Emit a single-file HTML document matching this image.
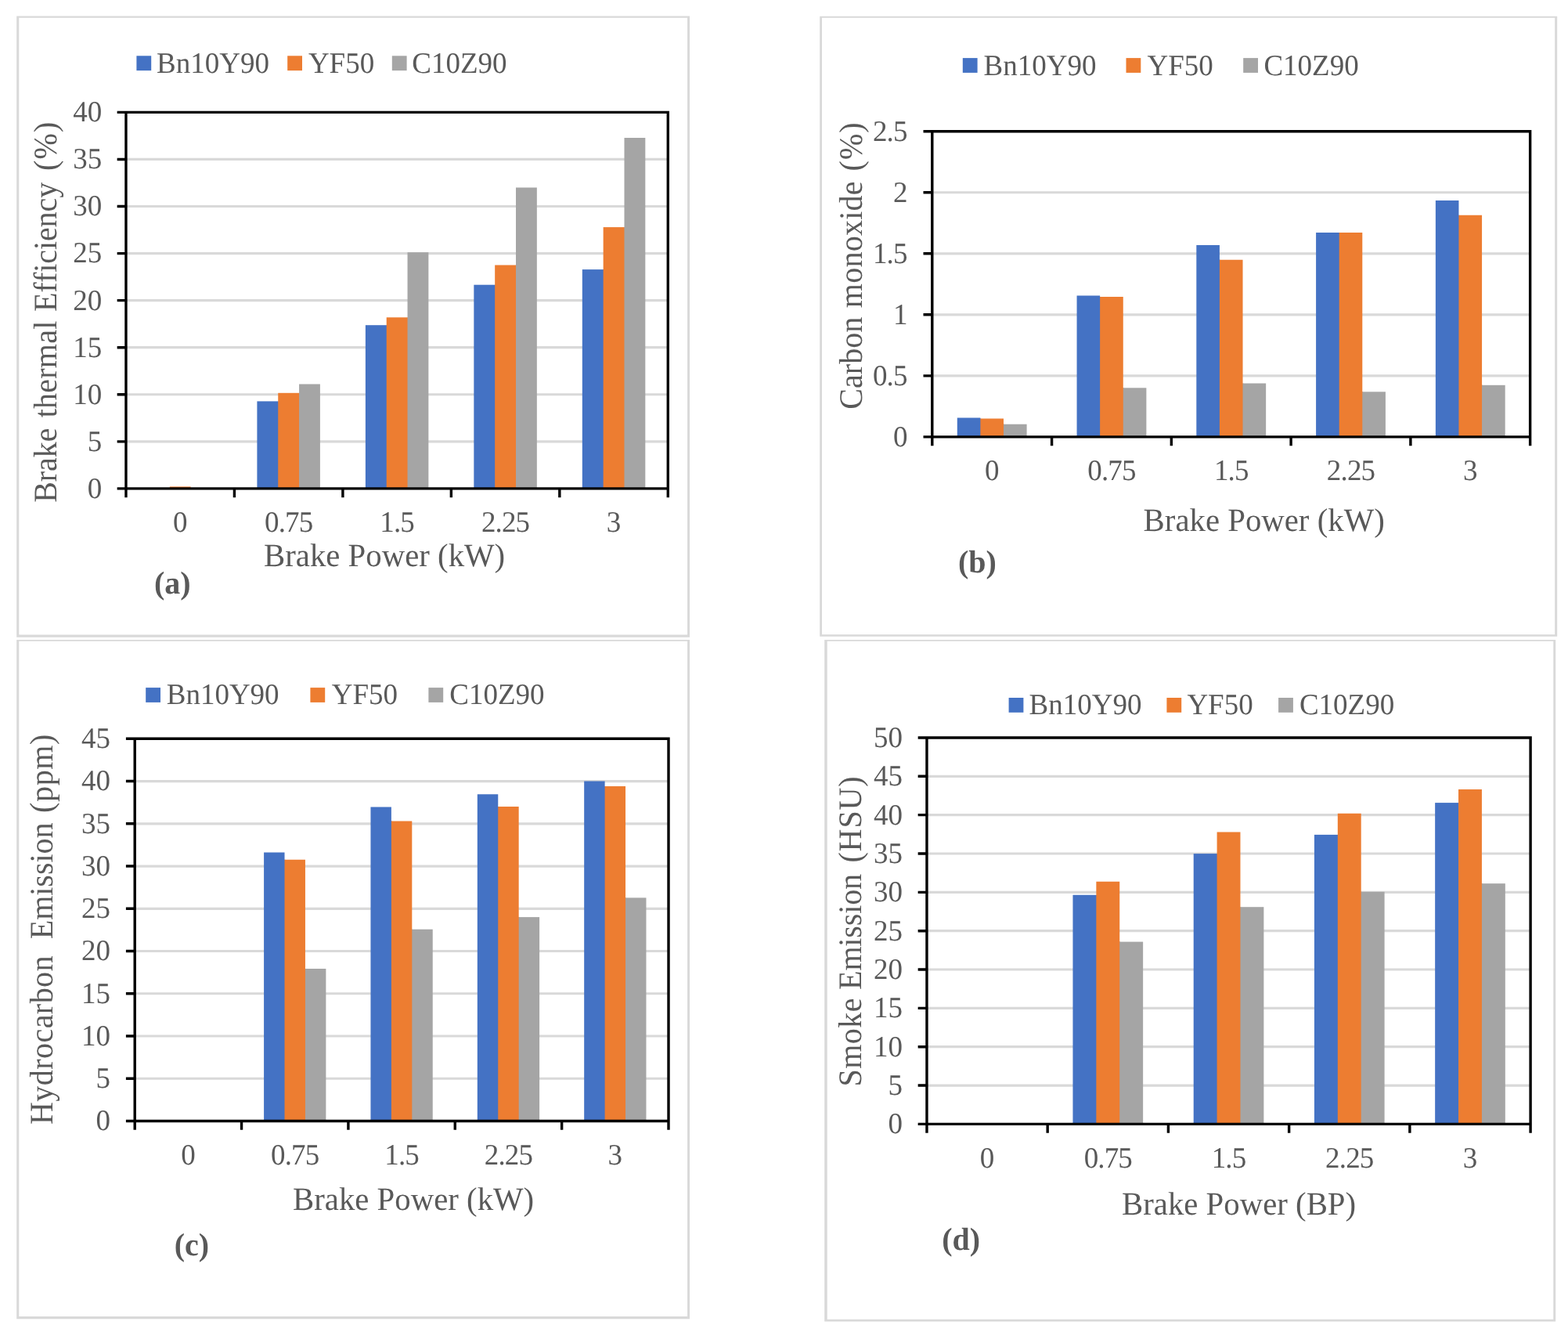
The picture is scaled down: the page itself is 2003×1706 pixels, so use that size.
<!DOCTYPE html>
<html lang="en">
<head>
<meta charset="utf-8">
<title>Engine performance and emission charts</title>
<style>
html,body{margin:0;padding:0;background:#fff;}
body{width:2003px;height:1706px;overflow:hidden;}
svg{display:block;}
svg text{font-family:'Liberation Serif', serif;fill:#595959;text-rendering:geometricPrecision;}
</style>
</head>
<body>
<svg xmlns="http://www.w3.org/2000/svg" width="2003" height="1706" viewBox="0 0 2003 1706">
<rect width="2003" height="1706" fill="#fff"/>
<g id="chart-a">
<path d="M21.2 20.5H881V813.7H21.2ZM24.3 22.7V810.6H878.1V22.7Z" fill="#D9D9D9" fill-rule="evenodd"/>
<path d="M160.95 563.84H853.3M160.95 503.77H853.3M160.95 443.71H853.3M160.95 383.65H853.3M160.95 323.59H853.3M160.95 263.52H853.3M160.95 203.46H853.3" stroke="#D9D9D9" stroke-width="3.2" fill="none"/>
<rect x="216.77" y="621.4" width="26.84" height="2.5" fill="#ED7D31"/>
<rect x="328.4" y="512.4" width="27.64" height="111.5" fill="#4472C4"/>
<rect x="355.24" y="501.8" width="27.64" height="122.1" fill="#ED7D31"/>
<rect x="382.07" y="490.5" width="26.84" height="133.4" fill="#A5A5A5"/>
<rect x="466.87" y="415.2" width="27.64" height="208.7" fill="#4472C4"/>
<rect x="493.71" y="405.3" width="27.64" height="218.6" fill="#ED7D31"/>
<rect x="520.54" y="322.2" width="26.84" height="301.7" fill="#A5A5A5"/>
<rect x="605.34" y="363.7" width="27.64" height="260.2" fill="#4472C4"/>
<rect x="632.18" y="338.5" width="27.64" height="285.4" fill="#ED7D31"/>
<rect x="659.01" y="239.5" width="26.84" height="384.4" fill="#A5A5A5"/>
<rect x="743.81" y="344.1" width="27.64" height="279.8" fill="#4472C4"/>
<rect x="770.65" y="290.1" width="27.64" height="333.8" fill="#ED7D31"/>
<rect x="797.48" y="176" width="26.84" height="447.9" fill="#A5A5A5"/>
<path d="M160.95 143.4H853.3V623.9H160.95ZM149.65 623.9H160.95M149.65 563.84H160.95M149.65 503.77H160.95M149.65 443.71H160.95M149.65 383.65H160.95M149.65 323.59H160.95M149.65 263.52H160.95M149.65 203.46H160.95M149.65 143.4H160.95M160.95 623.9V635.2M299.42 623.9V635.2M437.89 623.9V635.2M576.36 623.9V635.2M714.83 623.9V635.2M853.3 623.9V635.2" stroke="#000" stroke-width="3.4" fill="none" stroke-linejoin="miter"/>
<text transform="translate(130.3 635.8) scale(1 1.02)" font-size="37" text-anchor="end">0</text>
<text transform="translate(130.3 575.74) scale(1 1.02)" font-size="37" text-anchor="end">5</text>
<text transform="translate(130.3 515.67) scale(1 1.02)" font-size="37" text-anchor="end">10</text>
<text transform="translate(130.3 455.61) scale(1 1.02)" font-size="37" text-anchor="end">15</text>
<text transform="translate(130.3 395.55) scale(1 1.02)" font-size="37" text-anchor="end">20</text>
<text transform="translate(130.3 335.49) scale(1 1.02)" font-size="37" text-anchor="end">25</text>
<text transform="translate(130.3 275.43) scale(1 1.02)" font-size="37" text-anchor="end">30</text>
<text transform="translate(130.3 215.36) scale(1 1.02)" font-size="37" text-anchor="end">35</text>
<text transform="translate(130.3 155.3) scale(1 1.02)" font-size="37" text-anchor="end">40</text>
<text transform="translate(230.18 678.6) scale(1 1.02)" font-size="37" text-anchor="middle">0</text>
<text transform="translate(368.65 678.6) scale(1 1.02)" font-size="37" text-anchor="middle" style="letter-spacing:-0.85px">0.75</text>
<text transform="translate(507.12 678.6) scale(1 1.02)" font-size="37" text-anchor="middle" style="letter-spacing:-0.85px">1.5</text>
<text transform="translate(645.59 678.6) scale(1 1.02)" font-size="37" text-anchor="middle" style="letter-spacing:-0.85px">2.25</text>
<text transform="translate(784.06 678.6) scale(1 1.02)" font-size="37" text-anchor="middle">3</text>
<text transform="translate(337 722.7) scale(1 1.02)" font-size="40.8">Brake Power (kW)</text>
<text transform="translate(72.4 641.8) rotate(-90) scale(1 1.05)" font-size="40" xml:space="preserve"><tspan x="0" textLength="95.3" lengthAdjust="spacing">Brake</tspan> <tspan x="108.6" textLength="123.5" lengthAdjust="spacing">thermal</tspan> <tspan x="243.8" textLength="165.25" lengthAdjust="spacing">Efficiency</tspan> <tspan x="423.8" textLength="62.3" lengthAdjust="spacing">(%)</tspan></text>
<text transform="translate(197 758) scale(1 1.02)" font-size="40" font-weight="bold">(a)</text>
<rect x="174.4" y="71.3" width="18.8" height="18.8" fill="#4472C4"/>
<text transform="translate(200.1 92.5) scale(1 1.02)" font-size="37">Bn10Y90</text>
<rect x="367.2" y="71.3" width="18.8" height="18.8" fill="#ED7D31"/>
<text transform="translate(393.9 92.5) scale(1 1.02)" font-size="37">YF50</text>
<rect x="500.8" y="71.3" width="18.8" height="18.8" fill="#A5A5A5"/>
<text transform="translate(526.2 92.5) scale(1 1.02)" font-size="37">C10Z90</text>
</g>
<g id="chart-b">
<path d="M1047.2 20.7H1989.2V812.7H1047.2ZM1050 22.7V810.2H1986.2V22.7Z" fill="#D9D9D9" fill-rule="evenodd"/>
<path d="M1190.8 479.83H1954.65M1190.8 401.81H1954.65M1190.8 323.79H1954.65M1190.8 245.77H1954.65" stroke="#D9D9D9" stroke-width="3.2" fill="none"/>
<path d="M1222.78 533.4H1252.38V534.4h0.8V557.85H1222.78Z" fill="#4472C4"/>
<path d="M1252.38 534.4H1281.99V541.7h0.8V557.85H1252.38Z" fill="#ED7D31"/>
<rect x="1281.99" y="541.7" width="29.61" height="16.15" fill="#A5A5A5"/>
<path d="M1375.55 377.6H1405.15V378.9h0.8V557.85H1375.55Z" fill="#4472C4"/>
<path d="M1405.15 378.9H1434.76V495.3h0.8V557.85H1405.15Z" fill="#ED7D31"/>
<rect x="1434.76" y="495.3" width="29.61" height="62.55" fill="#A5A5A5"/>
<path d="M1528.32 313.1H1557.92V331.7h0.8V557.85H1528.32Z" fill="#4472C4"/>
<path d="M1557.92 331.7H1587.53V489.5h0.8V557.85H1557.92Z" fill="#ED7D31"/>
<rect x="1587.53" y="489.5" width="29.61" height="68.35" fill="#A5A5A5"/>
<rect x="1681.09" y="297" width="30.41" height="260.85" fill="#4472C4"/>
<path d="M1710.69 297H1740.3V500.3h0.8V557.85H1710.69Z" fill="#ED7D31"/>
<rect x="1740.3" y="500.3" width="29.61" height="57.55" fill="#A5A5A5"/>
<path d="M1833.86 255.9H1863.46V274.8h0.8V557.85H1833.86Z" fill="#4472C4"/>
<path d="M1863.46 274.8H1893.07V491.8h0.8V557.85H1863.46Z" fill="#ED7D31"/>
<rect x="1893.07" y="491.8" width="29.61" height="66.05" fill="#A5A5A5"/>
<path d="M1190.8 167.75H1954.65V557.85H1190.8ZM1179.5 557.85H1190.8M1179.5 479.83H1190.8M1179.5 401.81H1190.8M1179.5 323.79H1190.8M1179.5 245.77H1190.8M1179.5 167.75H1190.8M1190.8 557.85V569.15M1343.57 557.85V569.15M1496.34 557.85V569.15M1649.11 557.85V569.15M1801.88 557.85V569.15M1954.65 557.85V569.15" stroke="#000" stroke-width="3.4" fill="none" stroke-linejoin="miter"/>
<text transform="translate(1159.5 569.75) scale(1 1.02)" font-size="37" text-anchor="end">0</text>
<text transform="translate(1158.65 491.73) scale(1 1.02)" font-size="37" text-anchor="end" style="letter-spacing:-0.85px">0.5</text>
<text transform="translate(1159.5 413.71) scale(1 1.02)" font-size="37" text-anchor="end">1</text>
<text transform="translate(1158.65 335.69) scale(1 1.02)" font-size="37" text-anchor="end" style="letter-spacing:-0.85px">1.5</text>
<text transform="translate(1159.5 257.67) scale(1 1.02)" font-size="37" text-anchor="end">2</text>
<text transform="translate(1158.65 179.65) scale(1 1.02)" font-size="37" text-anchor="end" style="letter-spacing:-0.85px">2.5</text>
<text transform="translate(1267.18 612.7) scale(1 1.02)" font-size="37" text-anchor="middle">0</text>
<text transform="translate(1419.95 612.7) scale(1 1.02)" font-size="37" text-anchor="middle" style="letter-spacing:-0.85px">0.75</text>
<text transform="translate(1572.72 612.7) scale(1 1.02)" font-size="37" text-anchor="middle" style="letter-spacing:-0.85px">1.5</text>
<text transform="translate(1725.5 612.7) scale(1 1.02)" font-size="37" text-anchor="middle" style="letter-spacing:-0.85px">2.25</text>
<text transform="translate(1878.27 612.7) scale(1 1.02)" font-size="37" text-anchor="middle">3</text>
<text transform="translate(1460.6 678.1) scale(1 1.02)" font-size="40.8">Brake Power (kW)</text>
<text transform="translate(1100.6 522.7) rotate(-90) scale(1 1.05)" font-size="40" xml:space="preserve"><tspan x="0" textLength="117.95" lengthAdjust="spacing">Carbon</tspan> <tspan x="129.5" textLength="161.7" lengthAdjust="spacing">monoxide</tspan> <tspan x="304.1" textLength="62.3" lengthAdjust="spacing">(%)</tspan></text>
<text transform="translate(1224 731.3) scale(1 1.02)" font-size="40" font-weight="bold">(b)</text>
<rect x="1229.8" y="74.1" width="18.8" height="18.8" fill="#4472C4"/>
<text transform="translate(1256.6 96) scale(1 1.02)" font-size="37">Bn10Y90</text>
<rect x="1438.5" y="74.1" width="18.8" height="18.8" fill="#ED7D31"/>
<text transform="translate(1465.5 96) scale(1 1.02)" font-size="37">YF50</text>
<rect x="1588.2" y="74.1" width="18.8" height="18.8" fill="#A5A5A5"/>
<text transform="translate(1614.4 96) scale(1 1.02)" font-size="37">C10Z90</text>
</g>
<g id="chart-c">
<path d="M21.2 817.1H881V1684.3H21.2ZM24.3 818.7V1680.9H878.1V818.7Z" fill="#D9D9D9" fill-rule="evenodd"/>
<path d="M172.2 1377.26H854M172.2 1323.01H854M172.2 1268.77H854M172.2 1214.52H854M172.2 1160.28H854M172.2 1106.03H854M172.2 1051.79H854M172.2 997.54H854" stroke="#D9D9D9" stroke-width="3.2" fill="none"/>
<path d="M337.1 1088.6H363.53V1097.7h0.8V1431.5H337.1Z" fill="#4472C4"/>
<path d="M363.53 1097.7H389.95V1237h0.8V1431.5H363.53Z" fill="#ED7D31"/>
<rect x="389.95" y="1237" width="26.43" height="194.5" fill="#A5A5A5"/>
<path d="M473.46 1030.4H499.89V1048.6h0.8V1431.5H473.46Z" fill="#4472C4"/>
<path d="M499.89 1048.6H526.31V1186.7h0.8V1431.5H499.89Z" fill="#ED7D31"/>
<rect x="526.31" y="1186.7" width="26.43" height="244.8" fill="#A5A5A5"/>
<path d="M609.82 1014.3H636.25V1029.9h0.8V1431.5H609.82Z" fill="#4472C4"/>
<path d="M636.25 1029.9H662.67V1171.1h0.8V1431.5H636.25Z" fill="#ED7D31"/>
<rect x="662.67" y="1171.1" width="26.43" height="260.4" fill="#A5A5A5"/>
<path d="M746.18 997.6H772.61V1003.9h0.8V1431.5H746.18Z" fill="#4472C4"/>
<path d="M772.61 1003.9H799.03V1146.4h0.8V1431.5H772.61Z" fill="#ED7D31"/>
<rect x="799.03" y="1146.4" width="26.43" height="285.1" fill="#A5A5A5"/>
<path d="M172.2 943.3H854V1431.5H172.2ZM160.9 1431.5H172.2M160.9 1377.26H172.2M160.9 1323.01H172.2M160.9 1268.77H172.2M160.9 1214.52H172.2M160.9 1160.28H172.2M160.9 1106.03H172.2M160.9 1051.79H172.2M160.9 997.54H172.2M160.9 943.3H172.2M172.2 1431.5V1442.8M308.56 1431.5V1442.8M444.92 1431.5V1442.8M581.28 1431.5V1442.8M717.64 1431.5V1442.8M854 1431.5V1442.8" stroke="#000" stroke-width="3.4" fill="none" stroke-linejoin="miter"/>
<text transform="translate(141 1443.4) scale(1 1.02)" font-size="37" text-anchor="end">0</text>
<text transform="translate(141 1389.16) scale(1 1.02)" font-size="37" text-anchor="end">5</text>
<text transform="translate(141 1334.91) scale(1 1.02)" font-size="37" text-anchor="end">10</text>
<text transform="translate(141 1280.67) scale(1 1.02)" font-size="37" text-anchor="end">15</text>
<text transform="translate(141 1226.42) scale(1 1.02)" font-size="37" text-anchor="end">20</text>
<text transform="translate(141 1172.18) scale(1 1.02)" font-size="37" text-anchor="end">25</text>
<text transform="translate(141 1117.93) scale(1 1.02)" font-size="37" text-anchor="end">30</text>
<text transform="translate(141 1063.69) scale(1 1.02)" font-size="37" text-anchor="end">35</text>
<text transform="translate(141 1009.44) scale(1 1.02)" font-size="37" text-anchor="end">40</text>
<text transform="translate(141 955.2) scale(1 1.02)" font-size="37" text-anchor="end">45</text>
<text transform="translate(240.38 1486.9) scale(1 1.02)" font-size="37" text-anchor="middle">0</text>
<text transform="translate(376.74 1486.9) scale(1 1.02)" font-size="37" text-anchor="middle" style="letter-spacing:-0.85px">0.75</text>
<text transform="translate(513.1 1486.9) scale(1 1.02)" font-size="37" text-anchor="middle" style="letter-spacing:-0.85px">1.5</text>
<text transform="translate(649.46 1486.9) scale(1 1.02)" font-size="37" text-anchor="middle" style="letter-spacing:-0.85px">2.25</text>
<text transform="translate(785.82 1486.9) scale(1 1.02)" font-size="37" text-anchor="middle">3</text>
<text transform="translate(374 1544.7) scale(1 1.02)" font-size="40.8">Brake Power (kW)</text>
<text transform="translate(67.45 1436) rotate(-90) scale(1 1.05)" font-size="40" xml:space="preserve"><tspan x="0" textLength="215.54" lengthAdjust="spacing">Hydrocarbon</tspan>  <tspan x="236.8" textLength="148.7" lengthAdjust="spacing">Emission</tspan> <tspan x="398.1" textLength="100.25" lengthAdjust="spacing">(ppm)</tspan></text>
<text transform="translate(222.8 1603.2) scale(1 1.02)" font-size="40" font-weight="bold">(c)</text>
<rect x="186.2" y="878.1" width="18.8" height="18.8" fill="#4472C4"/>
<text transform="translate(212.7 898.8) scale(1 1.02)" font-size="37">Bn10Y90</text>
<rect x="396.4" y="878.1" width="18.8" height="18.8" fill="#ED7D31"/>
<text transform="translate(423.7 898.8) scale(1 1.02)" font-size="37">YF50</text>
<rect x="547.4" y="878.1" width="18.8" height="18.8" fill="#A5A5A5"/>
<text transform="translate(574.3 898.8) scale(1 1.02)" font-size="37">C10Z90</text>
</g>
<g id="chart-d">
<path d="M1053.2 817.1H1987.2V1687.6H1053.2ZM1056.7 818.7V1684.7H1984.3V818.7Z" fill="#D9D9D9" fill-rule="evenodd"/>
<path d="M1183.95 1386.06H1955.1M1183.95 1336.71H1955.1M1183.95 1287.37H1955.1M1183.95 1238.02H1955.1M1183.95 1188.68H1955.1M1183.95 1139.33H1955.1M1183.95 1089.99H1955.1M1183.95 1040.64H1955.1M1183.95 991.3H1955.1" stroke="#D9D9D9" stroke-width="3.2" fill="none"/>
<rect x="1370.46" y="1142.8" width="30.69" height="292.6" fill="#4472C4"/>
<path d="M1400.35 1125.7H1430.24V1202.6h0.8V1435.4H1400.35Z" fill="#ED7D31"/>
<rect x="1430.24" y="1202.6" width="29.89" height="232.8" fill="#A5A5A5"/>
<rect x="1524.69" y="1090.1" width="30.69" height="345.3" fill="#4472C4"/>
<path d="M1554.58 1062.4H1584.47V1158.2h0.8V1435.4H1554.58Z" fill="#ED7D31"/>
<rect x="1584.47" y="1158.2" width="29.89" height="277.2" fill="#A5A5A5"/>
<rect x="1678.92" y="1065.9" width="30.69" height="369.5" fill="#4472C4"/>
<path d="M1708.81 1038.7H1738.7V1138.8h0.8V1435.4H1708.81Z" fill="#ED7D31"/>
<rect x="1738.7" y="1138.8" width="29.89" height="296.6" fill="#A5A5A5"/>
<rect x="1833.15" y="1025.1" width="30.69" height="410.3" fill="#4472C4"/>
<path d="M1863.04 1008H1892.93V1128.2h0.8V1435.4H1863.04Z" fill="#ED7D31"/>
<rect x="1892.93" y="1128.2" width="29.89" height="307.2" fill="#A5A5A5"/>
<path d="M1183.95 941.95H1955.1V1435.4H1183.95ZM1172.65 1435.4H1183.95M1172.65 1386.06H1183.95M1172.65 1336.71H1183.95M1172.65 1287.37H1183.95M1172.65 1238.02H1183.95M1172.65 1188.68H1183.95M1172.65 1139.33H1183.95M1172.65 1089.99H1183.95M1172.65 1040.64H1183.95M1172.65 991.3H1183.95M1172.65 941.95H1183.95M1183.95 1435.4V1446.7M1338.18 1435.4V1446.7M1492.41 1435.4V1446.7M1646.64 1435.4V1446.7M1800.87 1435.4V1446.7M1955.1 1435.4V1446.7" stroke="#000" stroke-width="3.4" fill="none" stroke-linejoin="miter"/>
<text transform="translate(1153 1447.3) scale(1 1.02)" font-size="37" text-anchor="end">0</text>
<text transform="translate(1153 1397.95) scale(1 1.02)" font-size="37" text-anchor="end">5</text>
<text transform="translate(1153 1348.61) scale(1 1.02)" font-size="37" text-anchor="end">10</text>
<text transform="translate(1153 1299.26) scale(1 1.02)" font-size="37" text-anchor="end">15</text>
<text transform="translate(1153 1249.92) scale(1 1.02)" font-size="37" text-anchor="end">20</text>
<text transform="translate(1153 1200.58) scale(1 1.02)" font-size="37" text-anchor="end">25</text>
<text transform="translate(1153 1151.23) scale(1 1.02)" font-size="37" text-anchor="end">30</text>
<text transform="translate(1153 1101.88) scale(1 1.02)" font-size="37" text-anchor="end">35</text>
<text transform="translate(1153 1052.54) scale(1 1.02)" font-size="37" text-anchor="end">40</text>
<text transform="translate(1153 1003.2) scale(1 1.02)" font-size="37" text-anchor="end">45</text>
<text transform="translate(1153 953.85) scale(1 1.02)" font-size="37" text-anchor="end">50</text>
<text transform="translate(1261.07 1490.6) scale(1 1.02)" font-size="37" text-anchor="middle">0</text>
<text transform="translate(1415.3 1490.6) scale(1 1.02)" font-size="37" text-anchor="middle" style="letter-spacing:-0.85px">0.75</text>
<text transform="translate(1569.53 1490.6) scale(1 1.02)" font-size="37" text-anchor="middle" style="letter-spacing:-0.85px">1.5</text>
<text transform="translate(1723.75 1490.6) scale(1 1.02)" font-size="37" text-anchor="middle" style="letter-spacing:-0.85px">2.25</text>
<text transform="translate(1877.98 1490.6) scale(1 1.02)" font-size="37" text-anchor="middle">3</text>
<text transform="translate(1433 1550.6) scale(1 1.02)" font-size="40.8">Brake Power (BP)</text>
<text transform="translate(1100 1387.5) rotate(-90) scale(1 1.05)" font-size="40" xml:space="preserve"><tspan x="0" textLength="113" lengthAdjust="spacing">Smoke</tspan> <tspan x="123.6" textLength="148" lengthAdjust="spacing">Emission</tspan> <tspan x="285.9" textLength="110.25" lengthAdjust="spacing">(HSU)</tspan></text>
<text transform="translate(1203.2 1595.9) scale(1 1.02)" font-size="40" font-weight="bold">(d)</text>
<rect x="1288.6" y="891" width="18.8" height="18.8" fill="#4472C4"/>
<text transform="translate(1314.5 911.7) scale(1 1.02)" font-size="37">Bn10Y90</text>
<rect x="1490.4" y="891" width="18.8" height="18.8" fill="#ED7D31"/>
<text transform="translate(1516.4 911.7) scale(1 1.02)" font-size="37">YF50</text>
<rect x="1633.1" y="891" width="18.8" height="18.8" fill="#A5A5A5"/>
<text transform="translate(1659.9 911.7) scale(1 1.02)" font-size="37">C10Z90</text>
</g>
</svg>
</body>
</html>
